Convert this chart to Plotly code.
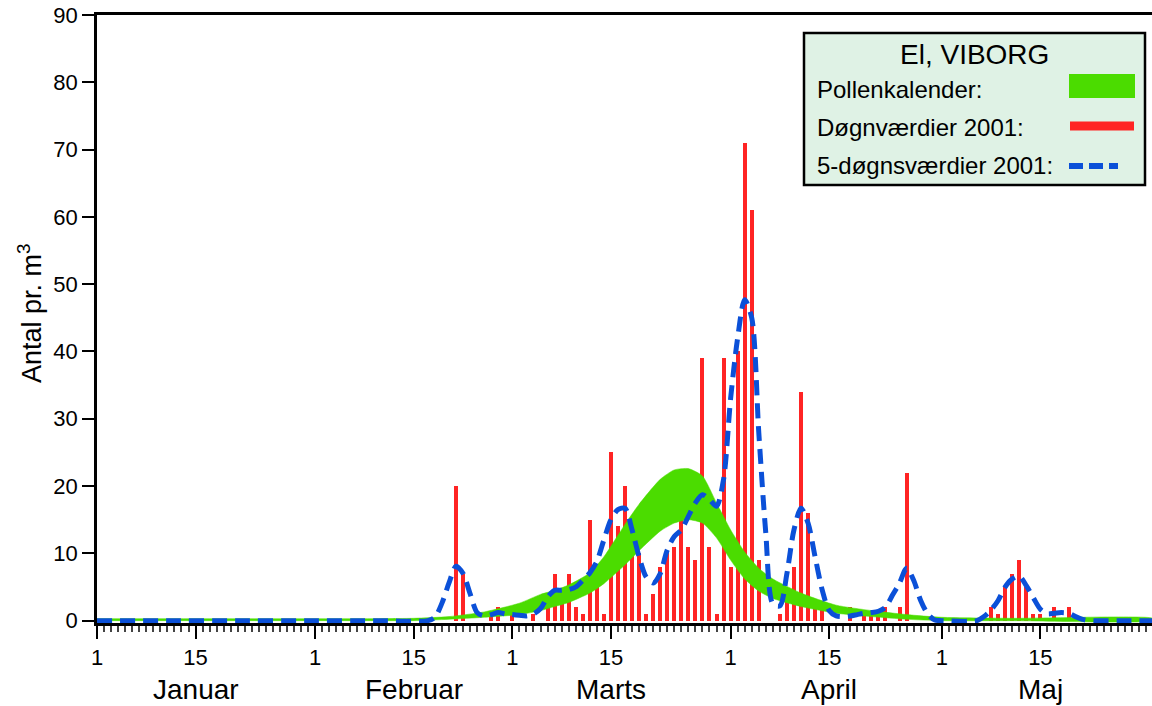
import plotly.graph_objects as go

# ---------------- data ----------------
# x = day of year 2001, 0 = 1 January
tick_days = [0, 14, 31, 45, 59, 73, 90, 104, 120, 134]
tick_labels = ["1", "15", "1", "15", "1", "15", "1", "15", "1", "15"]
month_days = [14, 45, 73, 104, 134]
month_names = ["Januar", "Februar", "Marts", "April", "Maj"]

# daily values 2001 (Døgnværdier)
bar_days = [51, 52, 56, 57, 59, 62, 64, 65, 66, 67, 68, 69, 70, 71, 72, 73, 74, 75, 76, 77,
            78, 79, 80, 81, 82, 83, 84, 85, 86, 87, 88, 89, 90, 91, 92, 93, 94, 97, 98, 99,
            100, 101, 102, 103, 107, 109, 110, 111, 112, 114, 115, 127, 128, 129, 130, 131,
            132, 133, 134, 136, 138]
bar_vals = [20, 7, 1, 2, 1, 1, 3, 7, 3, 7, 2, 1, 15, 6, 1, 25, 14, 20, 14, 10,
            1, 4, 8, 10, 11, 19, 11, 9, 39, 11, 1, 39, 8, 40, 71, 61, 9, 1, 3, 8,
            34, 16, 3, 2, 2, 1, 1, 1, 2, 2, 22, 2, 1, 5, 7, 9,
            5, 1, 1, 2, 2]

# 5-day values 2001 (5-døgnsværdier)
five_days = [0, 10, 20, 30, 40, 47, 48, 49, 50, 51, 52, 53, 54, 55, 56, 57, 58, 59, 60, 61,
             62, 63, 64, 65, 66, 67, 68, 69, 70, 71, 72, 73, 74, 75, 76, 77, 78, 79, 80, 81,
             82, 83, 84, 85, 86, 87, 88, 89, 90, 91, 92, 93, 94, 95, 96, 97, 98, 99, 100, 101,
             102, 103, 104, 105, 106, 107, 108, 109, 110, 111, 112, 113, 114, 115, 116, 117,
             118, 119, 120, 125, 126, 127, 128, 129, 130, 131, 132, 133, 134, 135, 136, 137,
             138, 139, 140, 141, 145, 150]
five_vals = [0, 0, 0, 0, 0, 0, 0.5, 2.6, 5.6, 8.1, 7.0, 4.0, 1.2, 0.7, 0.9, 1.2, 1.0, 0.9, 0.8, 0.7,
             1.0, 1.8, 3.5, 4.5, 4.5, 4.6, 5.0, 6.0, 7.1, 8.8, 12.0, 15.0, 16.5, 16.7, 13.5, 9.5, 6.5, 5.6, 7.0, 10.5,
             12.5, 13.5, 15.5, 17.5, 18.7, 18.0, 17.0, 21.0, 33.0, 42.0, 47.7, 45.0, 28.0, 13.0, 2.5, 2.2, 7.0, 13.5, 16.7, 14.5,
             9.5, 4.6, 1.5, 0.7, 0.6, 0.7, 0.9, 1.1, 1.2, 1.4, 2.0, 3.8, 5.6, 7.8, 6.0, 3.0,
             1.0, 0.1, 0, 0, 0.6, 1.6, 3.0, 5.0, 6.2, 6.6, 5.2, 3.4, 1.7, 1.0, 1.1, 1.2,
             1.1, 0.6, 0.2, 0, 0, 0]

# pollen calendar band (lower / upper)
cal_days = [0, 40, 45, 50, 55, 60, 63, 65, 67, 70, 72, 75, 77, 80, 82, 84, 86, 88, 90, 92,
            94, 96, 100, 105, 110, 115, 120, 130, 150]
cal_upper = [0.3, 0.3, 0.35, 0.6, 1.3, 2.6, 3.9, 4.5, 5.3, 7.1, 9.5, 14.3, 17.3, 21.0, 22.4, 22.6, 21.5, 17.5, 13.5, 10.2,
             7.8, 6.2, 4.1, 2.3, 1.5, 0.9, 0.5, 0.35, 0.35]
cal_lower = [0, 0, 0, 0.2, 0.5, 0.9, 1.5, 2.1, 2.7, 4.1, 5.5, 8.3, 10.4, 13.3, 14.5, 15.0, 14.5, 12.3, 9.0, 6.2,
             4.4, 3.3, 2.1, 1.1, 0.6, 0.2, 0, 0, 0]

# ---------------- styles ----------------
GREEN = "#4bdc00"
RED = "#ff2424"
BLUE = "#0b50d8"
FONT = "Liberation Sans, Arial, sans-serif"

W, H = 1152, 706
L, R, T, B = 97, 0, 15, 83
PW, PH = W - L - R, H - T - B


def px(x):
    return (x - L) / PW


def py(y):
    return (H - B - y) / PH


fig = go.Figure()

# pollen calendar band
fig.add_trace(go.Scatter(
    x=cal_days + cal_days[::-1],
    y=cal_upper + cal_lower[::-1],
    fill="toself", fillcolor=GREEN, mode="lines",
    line=dict(color=GREEN, width=0.5, shape="spline", smoothing=0.6),
    hoverinfo="skip", showlegend=False))

# daily bars
fig.add_trace(go.Bar(
    x=bar_days, y=bar_vals, width=0.57,
    marker=dict(color=RED, line=dict(width=0)),
    showlegend=False))

# 5-day curve
fig.add_trace(go.Scatter(
    x=five_days, y=five_vals, mode="lines",
    line=dict(color=BLUE, width=5, dash="15px,8px", shape="spline", smoothing=0.8),
    showlegend=False))

shapes = []
annotations = []

# legend box
shapes.append(dict(type="rect", xref="paper", yref="paper",
                   x0=px(804), x1=px(1145), y0=py(33), y1=py(185),
                   fillcolor="#dff2e5", line=dict(color="black", width=2.5), layer="above"))
shapes.append(dict(type="rect", xref="paper", yref="paper",
                   x0=px(1069), x1=px(1135), y0=py(74), y1=py(98),
                   fillcolor=GREEN, line=dict(width=0), layer="above"))
shapes.append(dict(type="line", xref="paper", yref="paper",
                   x0=px(1070), x1=px(1134), y0=py(126), y1=py(126),
                   line=dict(color=RED, width=9), layer="above"))
shapes.append(dict(type="line", xref="paper", yref="paper",
                   x0=px(1069), x1=px(1118), y0=py(166), y1=py(166),
                   line=dict(color=BLUE, width=6, dash="14px,6px"), layer="above"))

annotations.append(dict(text="El, VIBORG", xref="paper", yref="paper",
                        x=px(974), y=py(55), xanchor="center", yanchor="middle",
                        showarrow=False, font=dict(family=FONT, size=28, color="black")))
for label, yy in [("Pollenkalender:", 89), ("Døgnværdier 2001:", 128), ("5-døgnsværdier 2001:", 166)]:
    annotations.append(dict(text=label, xref="paper", yref="paper",
                            x=px(815), y=py(yy), xanchor="left", yanchor="middle",
                            showarrow=False, font=dict(family=FONT, size=24, color="black")))

# month names
for d, name in zip(month_days, month_names):
    annotations.append(dict(text=name, xref="x", yref="paper", x=d, y=py(689),
                            xanchor="center", yanchor="middle", showarrow=False,
                            font=dict(family=FONT, size=28, color="black")))

# y title
annotations.append(dict(text="Antal pr. m<sup>3</sup>", xref="paper", yref="paper",
                        x=px(30), y=py(313), xanchor="center", yanchor="middle",
                        textangle=-90, showarrow=False,
                        font=dict(family=FONT, size=27, color="black")))

fig.update_layout(
    width=W, height=H,
    margin=dict(l=L, r=R, t=T, b=B, pad=0),
    paper_bgcolor="white", plot_bgcolor="white",
    bargap=0, showlegend=False,
    shapes=shapes, annotations=annotations,
    font=dict(family=FONT, color="black"),
)

fig.update_xaxes(
    range=[0, PW / 7.04], showgrid=False, zeroline=False,
    showline=True, linecolor="black", linewidth=3, mirror=True,
    tickmode="array", tickvals=tick_days, ticktext=tick_labels,
    ticks="outside", ticklen=13, tickwidth=1.5, tickcolor="black",
    tickfont=dict(family=FONT, size=22, color="black"),
    minor=dict(tickmode="linear", tick0=0, dtick=1, ticks="outside",
               ticklen=6, tickwidth=1.5, tickcolor="#444", showgrid=False),
)
fig.update_yaxes(
    range=[-0.35, 90], showgrid=False, zeroline=False,
    showline=True, linecolor="black", linewidth=2.5,
    tickmode="array", tickvals=[0, 10, 20, 30, 40, 50, 60, 70, 80, 90],
    ticks="outside", ticklen=12, tickwidth=1.5, tickcolor="black",
    tickfont=dict(family=FONT, size=22, color="black"),
)

fig.write_html("out.html")
